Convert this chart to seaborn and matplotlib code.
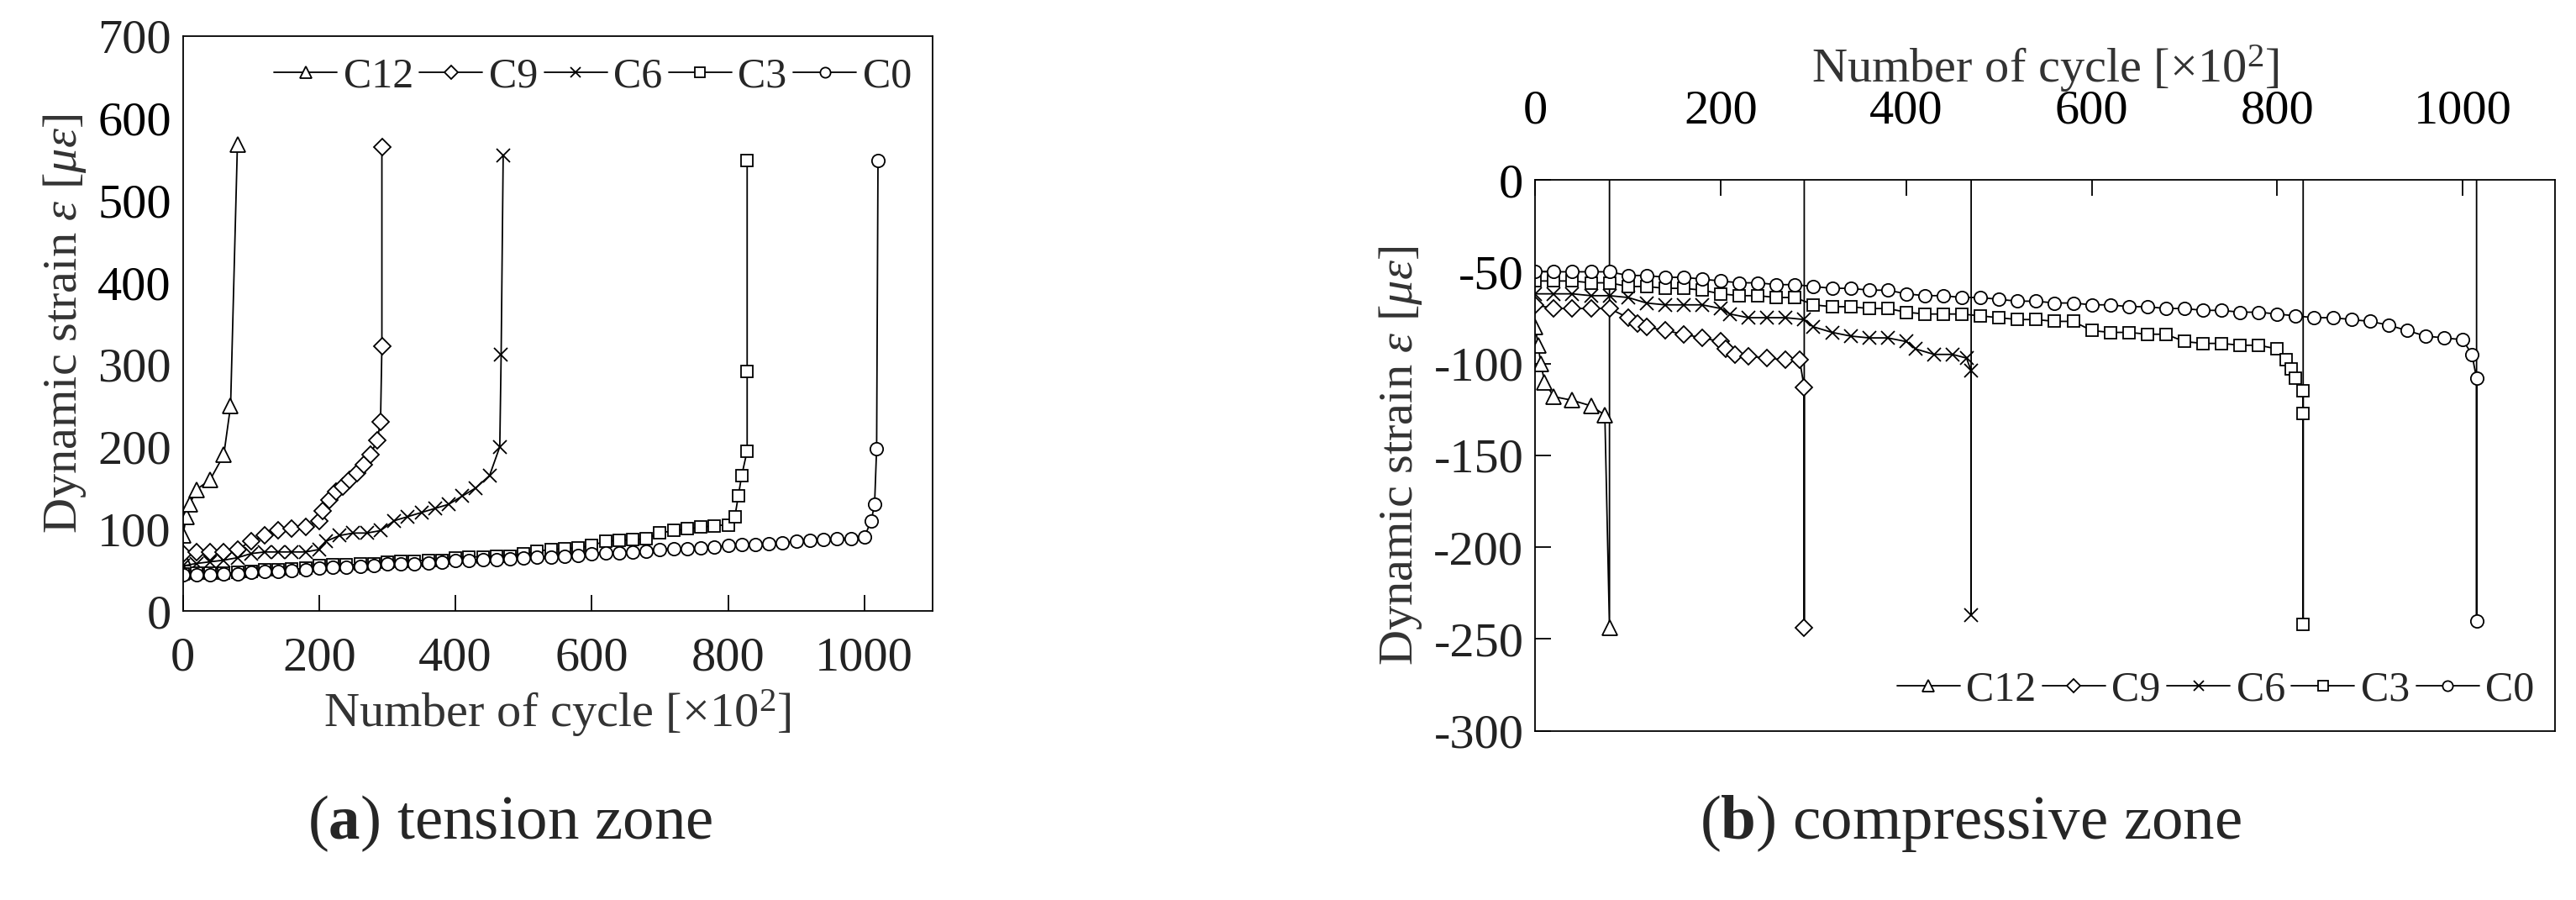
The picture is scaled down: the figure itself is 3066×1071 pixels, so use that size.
import matplotlib
matplotlib.use("Agg")
import matplotlib.pyplot as plt
import seaborn as sns

# ---- tension zone (a) ----
t_c12_x = [0, 0, 5, 10, 20, 40, 60, 70, 80]
t_c12_y = [65, 92, 115, 130, 148, 160, 190, 250, 568]
t_c9_x = [0, 20, 40, 60, 80, 100, 120, 140, 160, 180, 200, 205, 215, 225, 235, 245, 255, 265, 275, 285, 290, 292, 292]
t_c9_y = [70, 72, 72, 72, 75, 85, 92, 98, 100, 102, 110, 122, 135, 145, 152, 160, 168, 178, 190, 208, 230, 322, 565]
t_c6_x = [0, 20, 40, 60, 80, 100, 120, 140, 160, 180, 200, 210, 230, 250, 270, 290, 310, 330, 350, 370, 390, 410, 430, 450, 465, 467, 470]
t_c6_y = [55, 58, 60, 62, 65, 70, 72, 72, 72, 72, 75, 85, 92, 95, 95, 98, 110, 115, 120, 125, 130, 140, 150, 165, 200, 312, 555]
t_c3_x = [0, 20, 40, 60, 80, 100, 120, 140, 160, 180, 200, 220, 240, 260, 280, 300, 320, 340, 360, 380,
          400, 420, 440, 460, 480, 500, 520, 540, 560, 580, 600, 620, 640, 660, 680, 700, 720, 740, 760, 780,
          800, 810, 815, 820, 828, 828, 828]
t_c3_y = [45, 46, 46, 46, 47, 48, 50, 50, 51, 52, 55, 56, 56, 57, 57, 60, 61, 61, 62, 62,
          65, 66, 66, 67, 67, 70, 73, 75, 76, 77, 80, 85, 86, 87, 88, 95, 98, 100, 102, 104,
          105, 115, 140, 165, 195, 292, 548]
t_c0_x = [0, 20, 40, 60, 80, 100, 120, 140, 160, 180, 200, 220, 240, 260, 280, 300, 320, 340, 360, 380,
          400, 420, 440, 460, 480, 500, 520, 540, 560, 580, 600, 620, 640, 660, 680, 700, 720, 740, 760, 780,
          800, 820, 840, 860, 880, 900, 920, 940, 960, 980, 1000, 1010, 1015, 1018, 1020]
t_c0_y = [44, 44, 44, 45, 45, 47, 48, 48, 49, 50, 52, 53, 53, 54, 55, 57, 58, 58, 59, 60,
          62, 62, 63, 63, 64, 65, 66, 66, 67, 68, 70, 71, 71, 72, 73, 75, 76, 76, 77, 78,
          80, 81, 81, 82, 83, 85, 86, 87, 88, 88, 90, 110, 130, 198, 548]

# ---- compressive zone (b) ----  (last point: trace returns to 0, unmarked)
c_c12_x = [0, 3, 6, 10, 20, 40, 60, 75, 80, 80]
c_c12_y = [-80, -90, -100, -110, -118, -120, -123, -128, -244, 0]
c_c9_x = [0, 20, 40, 60, 80, 100, 110, 120, 140, 160, 180, 200, 205, 215, 230, 250, 270, 285, 290, 290, 290]
c_c9_y = [-68, -70, -70, -70, -70, -75, -78, -80, -82, -84, -86, -88, -92, -95, -96, -97, -98, -98, -113, -244, 0]
c_c6_x = [0, 20, 40, 60, 80, 100, 120, 140, 160, 180, 200, 210, 230, 250, 270, 290, 300, 320, 340, 360,
          380, 400, 410, 430, 450, 465, 470, 470, 470]
c_c6_y = [-62, -62, -62, -63, -63, -64, -67, -68, -68, -68, -70, -73, -75, -75, -75, -76, -80, -83, -85, -86,
          -86, -88, -92, -95, -95, -97, -104, -237, 0]
c_c3_x = [0, 20, 40, 60, 80, 100, 120, 140, 160, 180, 200, 220, 240, 260, 280, 300, 320, 340, 360, 380,
          400, 420, 440, 460, 480, 500, 520, 540, 560, 580, 600, 620, 640, 660, 680, 700, 720, 740, 760, 780,
          800, 810, 815, 820, 828, 828, 828, 828]
c_c3_y = [-55, -55, -55, -56, -56, -58, -58, -59, -59, -60, -62, -63, -63, -64, -64, -68, -69, -69, -70, -70,
          -72, -73, -73, -73, -74, -75, -76, -76, -77, -77, -82, -83, -83, -84, -84, -88, -89, -89, -90, -90,
          -92, -98, -103, -108, -115, -127, -242, 0]
c_c0_x = [0, 20, 40, 60, 80, 100, 120, 140, 160, 180, 200, 220, 240, 260, 280, 300, 320, 340, 360, 380,
          400, 420, 440, 460, 480, 500, 520, 540, 560, 580, 600, 620, 640, 660, 680, 700, 720, 740, 760, 780,
          800, 820, 840, 860, 880, 900, 920, 940, 960, 980, 1000, 1010, 1015, 1015, 1015]
c_c0_y = [-50, -50, -50, -50, -50, -52, -52, -53, -53, -54, -55, -56, -56, -57, -57, -58, -59, -59, -60, -60,
          -62, -63, -63, -64, -64, -65, -66, -66, -67, -67, -68, -68, -69, -69, -70, -70, -71, -71, -72, -72,
          -73, -74, -75, -75, -76, -77, -79, -82, -85, -86, -87, -95, -108, -240, 0]

labels = ["C12", "C9", "C6", "C3", "C0"]
markers = ["^", "D", "x", "s", "o"]
msizes = [13, 10, 11, 10, 11]

sns.set_style("ticks")
plt.rcParams["font.family"] = ["Liberation Serif", "DejaVu Serif"]
plt.rcParams["mathtext.fontset"] = "custom"
plt.rcParams["mathtext.rm"] = "Liberation Serif"
plt.rcParams["mathtext.it"] = "Liberation Serif:italic"
plt.rcParams["mathtext.bf"] = "Liberation Serif:bold"

fig = plt.figure(figsize=(30.66, 10.71), dpi=100)
ax1 = fig.add_axes([0.071, 0.321, 0.291, 0.639])
ax2 = fig.add_axes([0.596, 0.188, 0.396, 0.612])

fs = 42


def draw(ax, series, skip_last=False):
    for (xs, ys), lab, m, ms in zip(series, labels, markers, msizes):
        n = len(xs) - 1 if skip_last else len(xs)
        sns.lineplot(x=xs, y=ys, ax=ax, sort=False, estimator=None, color="k", lw=1.3,
                     marker=m, markersize=ms, markerfacecolor="white", markeredgecolor="k",
                     markeredgewidth=1.3, markevery=list(range(n)), label=lab)
    for s in ax.spines.values():
        s.set_visible(True)
        s.set_color("k")
        s.set_linewidth(1.3)
    ax.tick_params(labelsize=fs, direction="in", length=14, width=1.3, colors="k")
    for t in ax.get_xticklabels() + ax.get_yticklabels():
        t.set_color("#222")


draw(ax1, [(t_c12_x, t_c12_y), (t_c9_x, t_c9_y), (t_c6_x, t_c6_y), (t_c3_x, t_c3_y), (t_c0_x, t_c0_y)])
ax1.set_xlim(0, 1100)
ax1.set_ylim(0, 700)
ax1.set_xticks(range(0, 1001, 200))
ax1.set_yticks(range(0, 701, 100))
ax1.tick_params(axis="y", length=0, pad=10)
ax1.tick_params(axis="x", pad=22)
ax1.set_xlabel(r"Number of cycle [$\times$10$^2$]", fontsize=fs, color="#333", labelpad=6)
ax1.set_ylabel(r"Dynamic strain $\varepsilon$ [$\mu\varepsilon$]", fontsize=fs, color="#333", labelpad=8)
ax1.legend(loc="upper right", ncol=5, frameon=False, fontsize=fs - 6, handlelength=1.5,
           handletextpad=0.15, columnspacing=0.15, borderaxespad=0.1, markerscale=0.8)

draw(ax2, [(c_c12_x, c_c12_y), (c_c9_x, c_c9_y), (c_c6_x, c_c6_y), (c_c3_x, c_c3_y), (c_c0_x, c_c0_y)],
     skip_last=True)
ax2.set_xlim(0, 1100)
ax2.set_ylim(-300, 0)
ax2.set_xticks(range(0, 1001, 200))
ax2.set_yticks(range(-300, 1, 50))
ax2.xaxis.tick_top()
ax2.xaxis.set_label_position("top")
ax2.tick_params(axis="x", pad=40)
ax2.tick_params(axis="y", pad=10)
ax2.set_yticklabels([str(v) for v in range(-300, 1, 50)])
ax2.set_xlabel(r"Number of cycle [$\times$10$^2$]", fontsize=fs, color="#333", labelpad=6)
ax2.set_ylabel(r"Dynamic strain $\varepsilon$ [$\mu\varepsilon$]", fontsize=fs, color="#333", labelpad=8)
ax2.legend(loc="lower right", ncol=5, frameon=False, fontsize=fs - 6, handlelength=1.5,
           handletextpad=0.15, columnspacing=0.15, borderaxespad=0.1, markerscale=0.8)

fig.text(0.198, 0.085, r"($\mathbf{a}$) tension zone", fontsize=54, ha="center", va="center")
fig.text(0.765, 0.085, r"($\mathbf{b}$) compressive zone", fontsize=54, ha="center", va="center")

fig.savefig("out.png", dpi=100, facecolor="white")
